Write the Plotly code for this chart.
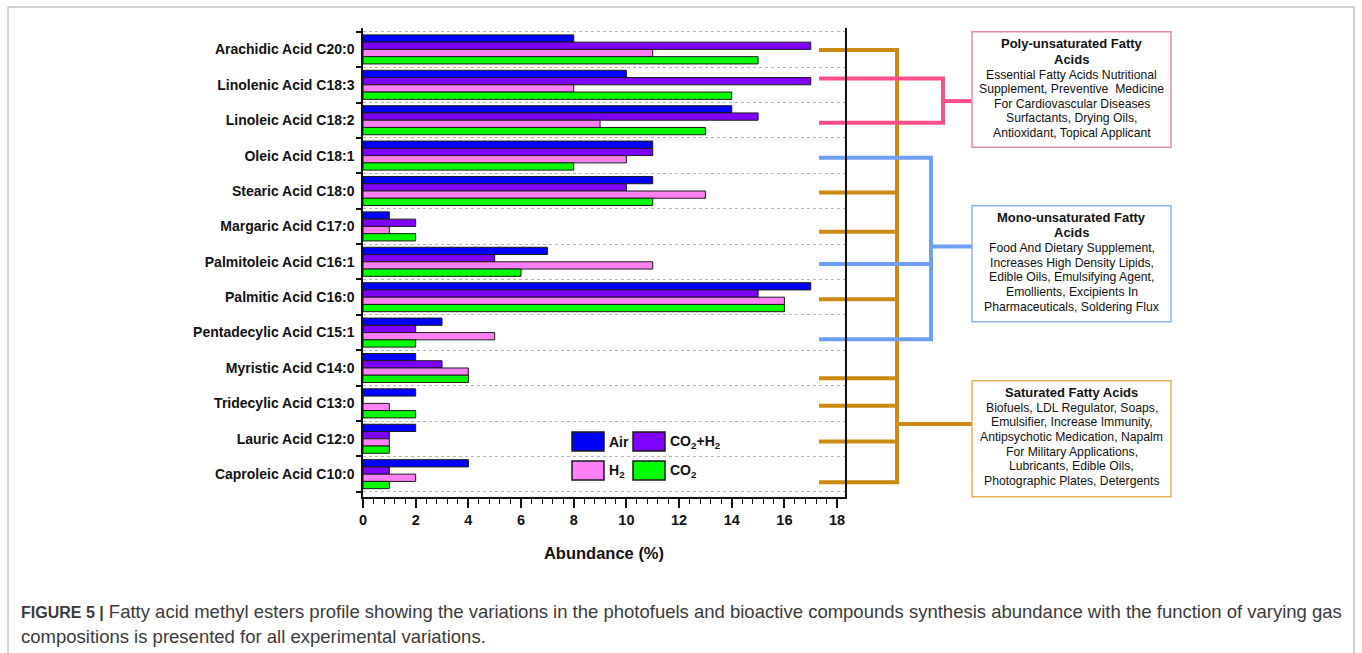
import plotly.graph_objects as go

# ---- data -------------------------------------------------------------
categories = [
    "Arachidic Acid C20:0", "Linolenic Acid C18:3", "Linoleic Acid C18:2",
    "Oleic Acid C18:1", "Stearic Acid C18:0", "Margaric Acid C17:0",
    "Palmitoleic Acid C16:1", "Palmitic Acid C16:0", "Pentadecylic Acid C15:1",
    "Myristic Acid C14:0", "Tridecylic Acid C13:0", "Lauric Acid C12:0",
    "Caproleic Acid C10:0",
]
air = [8, 10, 14, 11, 11, 1, 7, 17, 3, 2, 2, 2, 4]
co2_h2 = [17, 17, 15, 11, 10, 2, 5, 15, 2, 3, 0, 1, 1]
h2 = [11, 8, 9, 10, 13, 1, 11, 16, 5, 4, 1, 1, 2]
co2 = [15, 14, 13, 8, 11, 2, 6, 16, 2, 4, 2, 1, 1]

series_names = ["Air", "CO<sub>2</sub>+H<sub>2</sub>", "H<sub>2</sub>", "CO<sub>2</sub>"]
series_values = [air, co2_h2, h2, co2]
series_colors = ["#0000FF", "#7F00FF", "#FF80F4", "#00FF00"]

# fatty-acid class of each category
acid_class = ["sat", "poly", "poly", "mono", "sat", "sat", "mono", "sat",
              "mono", "sat", "sat", "sat", "sat"]

class_titles = {
    "poly": ["Poly-unsaturated Fatty", "Acids"],
    "mono": ["Mono-unsaturated Fatty", "Acids"],
    "sat": ["Saturated Fatty Acids"],
}
class_uses = {
    "poly": ["Essential Fatty Acids Nutritional",
             "Supplement, Preventive  Medicine",
             "For Cardiovascular Diseases",
             "Surfactants, Drying Oils,",
             "Antioxidant, Topical Applicant"],
    "mono": ["Food And Dietary Supplement,",
             "Increases High Density Lipids,",
             "Edible Oils, Emulsifying Agent,",
             "Emollients, Excipients In",
             "Pharmaceuticals, Soldering Flux"],
    "sat": ["Biofuels, LDL Regulator, Soaps,",
            "Emulsifier, Increase Immunity,",
            "Antipsychotic Medication, Napalm",
            "For Military Applications,",
            "Lubricants, Edible Oils,",
            "Photographic Plates, Detergents"],
}

caption_lines = [
    "<b style='font-size:16px'>FIGURE 5 |</b> Fatty acid methyl esters profile showing the variations in the "
    "photofuels and bioactive compounds synthesis abundance with the function of varying gas",
    "compositions is presented for all experimental variations.",
]

# ---- geometry ---------------------------------------------------------
W, H = 1362, 653
L, T, R, B = 363, 28, 517, 156
PW, PH = W - L - R, H - T - B


def px_x(px):
    return (px - L) / PW


def px_y(py):
    return (T + PH - py) / PH


SANS = "Liberation Sans, Arial, sans-serif"

ypos = list(range(len(categories)))

fig = go.Figure()
for name, vals, col in zip(series_names, series_values, series_colors):
    fig.add_trace(go.Bar(
        x=vals, y=ypos, orientation="h", name=name,
        marker=dict(color=col, line=dict(color="#1a1a1a", width=1)),
        showlegend=False,
    ))

shapes = []
annotations = []

# ---- in-plot legend ---------------------------------------------------
legend_slots = [(572, 432), (633, 432), (572, 461), (633, 461)]
for (lx, ly), name, col in zip(legend_slots, series_names, series_colors):
    shapes.append(dict(type="rect", xref="paper", yref="paper",
                       x0=px_x(lx), x1=px_x(lx + 32), y0=px_y(ly + 19), y1=px_y(ly),
                       fillcolor=col, line=dict(color="#1a1a1a", width=1.5), layer="above"))
    annotations.append(dict(xref="paper", yref="paper", x=px_x(lx + 35), y=px_y(ly + 10),
                            xanchor="left", yanchor="middle", showarrow=False,
                            text=name, font=dict(family=SANS, size=14, color="#111", weight="bold")))

# ---- class brackets ---------------------------------------------------
ORANGE, PINK, BLUE = "#CC8A10", "#FF4D8D", "#6E9FF5"
class_color = {"sat": ORANGE, "poly": PINK, "mono": BLUE}
class_spine_px = {"sat": 897, "poly": 943, "mono": 931}
stub_shift = [0.02, -0.18, 0.07, 0.06, 0.04, 0.15, 0.06, 0.06, 0.19, 0.29, 0.07, 0.08, 0.23]
class_join = {"poly": 1.46, "mono": 5.57, "sat": 10.58}
LW = 4

for cls in ["sat", "poly", "mono"]:
    idx = [i for i, c in enumerate(acid_class) if c == cls]
    ys = [i + stub_shift[i] for i in idx]
    sx = px_x(class_spine_px[cls])
    col = class_color[cls]
    shapes.append(dict(type="line", xref="paper", yref="y", x0=sx, x1=sx,
                       y0=min(ys), y1=max(ys), line=dict(color=col, width=LW), layer="below"))
    for y in ys:
        shapes.append(dict(type="line", xref="paper", yref="y", x0=px_x(819), x1=sx + 2 / PW,
                           y0=y, y1=y, line=dict(color=col, width=LW), layer="below"))
    shapes.append(dict(type="line", xref="paper", yref="y", x0=sx, x1=px_x(972),
                       y0=class_join[cls], y1=class_join[cls],
                       line=dict(color=col, width=LW), layer="below"))

# ---- class description boxes -----------------------------------------
box_rows = {"poly": (31.7, 147.3), "mono": (205.7, 321.7), "sat": (380.7, 496.7)}
box_border = {"poly": "#E98BB0", "mono": "#8DB3EE", "sat": "#E3B451"}
box_first_line = {"poly": 44.0, "mono": 217.5, "sat": 392.5}
BX0, BX1 = 972, 1171
for cls in ["poly", "mono", "sat"]:
    y0, y1 = box_rows[cls]
    shapes.append(dict(type="rect", xref="paper", yref="paper",
                       x0=px_x(BX0), x1=px_x(BX1), y0=px_y(y1), y1=px_y(y0),
                       line=dict(color=box_border[cls], width=1.5), fillcolor="white"))
    yy = box_first_line[cls]
    for t in class_titles[cls]:
        annotations.append(dict(xref="paper", yref="paper", x=px_x((BX0 + BX1) / 2), y=px_y(yy),
                                xanchor="center", yanchor="middle", showarrow=False, text=t,
                                font=dict(family=SANS, size=13, color="#111", weight="bold")))
        yy += 15.3
    for t in class_uses[cls]:
        annotations.append(dict(xref="paper", yref="paper", x=px_x((BX0 + BX1) / 2), y=px_y(yy),
                                xanchor="center", yanchor="middle", showarrow=False, text=t,
                                font=dict(family=SANS, size=12.2, color="#111")))
        yy += 14.6

# ---- outer frame and caption -----------------------------------------
shapes.append(dict(type="rect", xref="paper", yref="paper",
                   x0=px_x(8), x1=px_x(1354), y0=px_y(670), y1=px_y(7),
                   line=dict(color="#A8A8A8", width=1), layer="below"))
for k, line in enumerate(caption_lines):
    annotations.append(dict(xref="paper", yref="paper", x=px_x(19), y=px_y(611 + 25 * k),
                            xanchor="left", yanchor="middle", showarrow=False, text=line,
                            font=dict(family=SANS, size=18.5, color="#3a3a3a")))

fig.update_layout(
    width=W, height=H,
    margin=dict(l=L, r=R, t=T, b=B, autoexpand=False),
    paper_bgcolor="white", plot_bgcolor="white",
    barmode="group", bargap=0.18, bargroupgap=0,
    shapes=shapes, annotations=annotations,
    xaxis=dict(
        range=[0, 18.3], dtick=2, tick0=0,
        showline=True, linecolor="#111", linewidth=1.5,
        ticks="outside", ticklen=9, tickwidth=1.5, tickcolor="#111",
        minor=dict(dtick=0.4, tick0=0, ticks="outside", ticklen=5, tickwidth=1, tickcolor="#111"),
        showgrid=False, zeroline=False,
        tickfont=dict(family=SANS, size=14.5, color="#111", weight="bold"),
        title=dict(text="Abundance (%)", standoff=20,
                   font=dict(family=SANS, size=16.5, color="#111", weight="bold")),
    ),
    yaxis=dict(
        range=[12.645, -0.605],
        tickmode="array", tickvals=ypos, ticktext=categories,
        ticks="", showgrid=False, zeroline=False,
        showline=True, linecolor="#111", linewidth=1.5, mirror=True,
        ticklabelstandoff=4,
        minor=dict(tick0=0.5, dtick=1, ticks="outside", ticklen=5, tickwidth=1.5, tickcolor="#111",
                   showgrid=True, gridcolor="#B5B5B5", griddash="dot", gridwidth=1),
        tickfont=dict(family=SANS, size=14, color="#111", weight="bold"),
    ),
)

fig.write_html("out.html")
